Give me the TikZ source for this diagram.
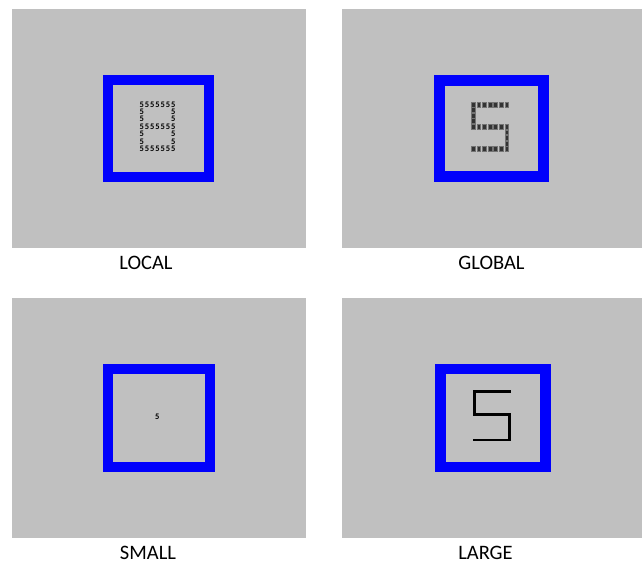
\documentclass[tikz,border=0pt]{standalone}
\usepackage{fontspec}
\setmainfont{Carlito}
\usepackage{xcolor}
\definecolor{panelgray}{RGB}{192,192,192}
\definecolor{frameblue}{RGB}{0,0,252}
\tikzset{
  caption/.style={inner sep=0pt,font=\fontsize{20.5}{24}\selectfont},
  digit/.style={inner sep=0pt,text=black,font=\fontsize{8.5}{8.5}\selectfont\bfseries},
  block/.style={rectangle,inner sep=0pt,fill=black!80,draw=black!55,line width=0.5pt,
    minimum width=3.6pt,minimum height=4.9pt},
  frame/.style={frameblue,line width=10.5pt}
}

\begin{document}
\begin{tikzpicture}[x=1pt,y=-1pt]
\useasboundingbox[fill=white] (0,0) rectangle (643,564);
% grey panels
\fill[panelgray] (12,9) rectangle (306,248);
\fill[panelgray] (342,9) rectangle (642,248);
\fill[panelgray] (12,298) rectangle (306,538);
\fill[panelgray] (342,298) rectangle (642,538);
% blue frames
\draw[frame] (108,80) rectangle (209,177);
\draw[frame] (439.3,80.3) rectangle (543.7,176.7);
\draw[frame] (108,369) rectangle (210,467);
\draw[frame] (440.3,369) rectangle (545.7,467);
% local: an 8 made of small 5s
\foreach \r in {0,3,6}
  \foreach \c in {0,...,6}
    \node[digit] (l-\r-\c) at ({141.7+5.27*\c},{104.3+7.4*\r}) {5};
\foreach \r in {1,2,4,5}
  \foreach \c in {0,6}
    \node[digit] (l-\r-\c) at ({141.7+5.27*\c},{104.3+7.4*\r}) {5};
% global: a 5 made of blocks
\foreach \r in {0,4,8}
  \foreach \c in {0,...,6}
    \node[block] (g-\r-\c) at ({473.3+5.56*\c},{104.5+5.56*\r}) {};
\foreach \r in {1,2,3}
  \node[block] (g-\r-0) at (473.3,{104.5+5.56*\r}) {};
\foreach \r in {5,6,7}
  \node[block] (g-\r-6) at ({473.3+5.56*6},{104.5+5.56*\r}) {};
% small
\node[digit] (s5) at (157.3,416.7) {5};
% large
\draw[line width=2.7pt] (510.5,391.5) -- (474.5,391.5) -- (474.5,414.7)
  -- (509.3,414.7) -- (509.3,440) -- (473,440);
% captions
\node[caption] (loc) at (146,262.7) {LOCAL};
\node[caption] (glo) at (491.5,262.7) {GLOBAL};
\node[caption] (sma) at (148,552.5) {SMALL};
\node[caption] (lar) at (485.5,552.5) {LARGE};
\end{tikzpicture}
\end{document}
